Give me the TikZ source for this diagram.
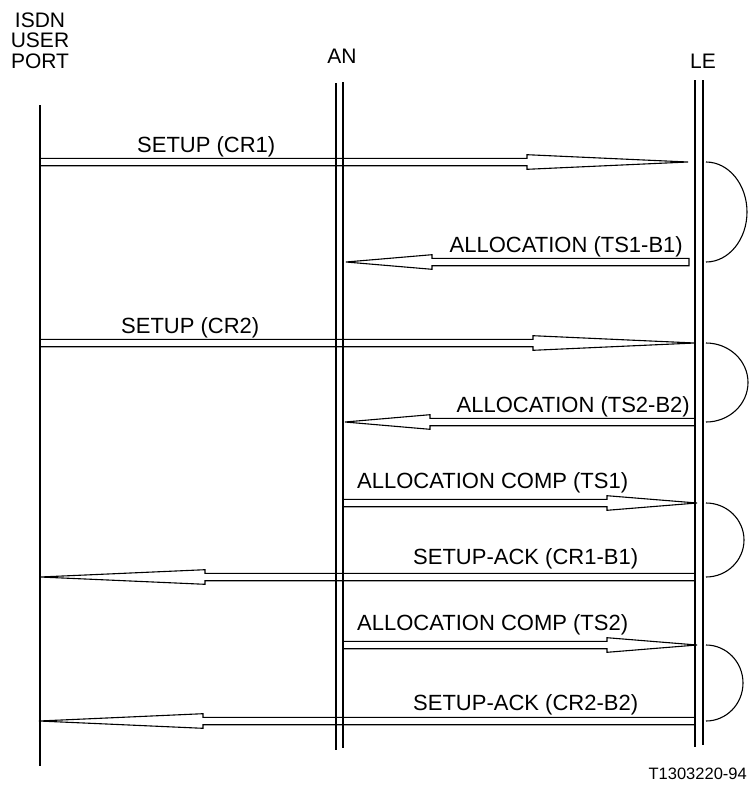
\documentclass[tikz,border=0pt]{standalone}
\usepackage{fontspec}
\setmainfont{Liberation Sans}
\usetikzlibrary{calc}
\tikzset{
  sig/.style={draw=black, line width=1.1pt, line join=miter},
  life/.style={draw=black, line width=1.1pt},
  lbl/.style={inner sep=0pt, font=\fontsize{22}{22}\selectfont},
  hdr/.style={inner sep=0pt, align=center, font=\fontsize{21}{20.5}\selectfont},
  loop/.style={draw=black, line width=1.1pt}
}
% #1 start, #2 tip, #3 head length (pt)
\newcommand\sigarrow[3]{%
  \draw[sig] let \p1=(#1), \p2=(#2), \p3=($(#2)!#3pt!(#1)$) in
    (\x1,\y1+3.7pt) -- (\x3,\y1+3.7pt) -- (\x3,\y1+7.3pt) -- (\x2,\y2)
    -- (\x3,\y1-7.3pt) -- (\x3,\y1-3.7pt) -- (\x1,\y1-3.7pt) -- cycle;}
\begin{document}
\begin{tikzpicture}[x=1pt,y=-1pt]
\useasboundingbox (0,0) rectangle (749,785);
% headers
\node[hdr, anchor=base] (hu) at (40,68) {ISDN\\USER\\PORT};
\node[hdr, anchor=base] (han) at (342,63) {AN};
\node[hdr, anchor=base] (hle) at (703,68) {LE};
% lifelines
\coordinate (uTop) at (40,105); \coordinate (uBot) at (40,766);
\coordinate (anAt) at (336,83); \coordinate (anAb) at (336,750);
\coordinate (anBt) at (343,82); \coordinate (anBb) at (343,748);
\coordinate (leAt) at (695,80); \coordinate (leAb) at (695,747);
\coordinate (leBt) at (703,80); \coordinate (leBb) at (703,745);
\draw[life] (uTop) -- (uBot);
\draw[life] (anAt) -- (anAb);
\draw[life] (anBt) -- (anBb);
\draw[life] (leAt) -- (leAb);
\draw[life] (leBt) -- (leBb);
% messages
\coordinate (m1s) at (40,162);  \coordinate (m1t) at (688,162);
\coordinate (m2s) at (689,262); \coordinate (m2t) at (346,262);
\coordinate (m3s) at (40,343);  \coordinate (m3t) at (695,343);
\coordinate (m4s) at (695,422); \coordinate (m4t) at (345,422);
\coordinate (m5s) at (343,503); \coordinate (m5t) at (697,503);
\coordinate (m6s) at (695,577); \coordinate (m6t) at (40,577);
\coordinate (m7s) at (343,645); \coordinate (m7t) at (697,645);
\coordinate (m8s) at (695,721); \coordinate (m8t) at (39,721);
\sigarrow{m1s}{m1t}{161}
\sigarrow{m2s}{m2t}{86}
\sigarrow{m3s}{m3t}{162}
\sigarrow{m4s}{m4t}{85}
\sigarrow{m5s}{m5t}{90}
\sigarrow{m6s}{m6t}{165}
\sigarrow{m7s}{m7t}{90}
\sigarrow{m8s}{m8t}{164}
% labels
\node[lbl, anchor=base west] (l1) at (137,152) {SETUP (CR1)};
\node[lbl, anchor=base east] (l2) at (683,252) {ALLOCATION (TS1-B1)};
\node[lbl, anchor=base west] (l3) at (121,333) {SETUP (CR2)};
\node[lbl, anchor=base east] (l4) at (690,412) {ALLOCATION (TS2-B2)};
\node[lbl, anchor=base west] (l5) at (357,488) {ALLOCATION COMP (TS1)};
\node[lbl, anchor=base west] (l6) at (413,564) {SETUP-ACK (CR1-B1)};
\node[lbl, anchor=base west] (l7) at (357,630) {ALLOCATION COMP (TS2)};
\node[lbl, anchor=base west] (l8) at (413,710) {SETUP-ACK (CR2-B2)};
% loops at LE
\coordinate (c1) at (706,162);
\coordinate (c2) at (706,343);
\coordinate (c3) at (706,503);
\coordinate (c4) at (706,645);
\draw[loop] (c1) arc[start angle=-90, end angle=90, x radius=41, y radius=50];
\draw[loop] (c2) arc[start angle=-90, end angle=90, x radius=42, y radius=39.5];
\draw[loop] (c3) arc[start angle=-90, end angle=90, x radius=38, y radius=37];
\draw[loop] (c4) arc[start angle=-90, end angle=90, x radius=37, y radius=38];
% footer
\node[inner sep=0pt, anchor=base east, font=\fontsize{16.5}{16.5}\selectfont] (ref) at (747,779) {T1303220-94};
\end{tikzpicture}
\end{document}
